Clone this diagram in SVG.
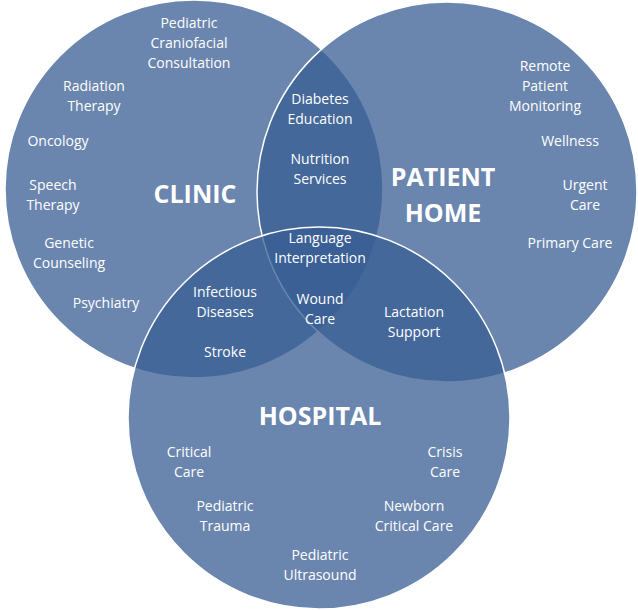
<svg xmlns="http://www.w3.org/2000/svg" width="638" height="610" viewBox="0 0 638 610">
<style>
.c{fill:#385d93;fill-opacity:0.75;stroke:#ffffff;stroke-width:1.5}
text{font-family:"Open Sans","Liberation Sans",sans-serif;fill:#fff;font-size:14px;text-anchor:middle}
.t{font-size:25px;font-weight:bold}
</style>
<rect width="638" height="610" fill="#fff"/>
<g id="clinic"><circle class="c" cx="194" cy="189" r="189"/>
<text class="t" x="195" y="203">CLINIC</text>
<text x="189" y="28">Pediatric</text><text x="189" y="48">Craniofacial</text><text x="189" y="68">Consultation</text>
<text x="94" y="91">Radiation</text><text x="94" y="111">Therapy</text>
<text x="58" y="146">Oncology</text>
<text x="53" y="190">Speech</text><text x="53" y="210">Therapy</text>
<text x="69" y="248">Genetic</text><text x="69" y="268">Counseling</text>
<text x="106" y="308">Psychiatry</text></g>
<g id="patient-home"><circle class="c" cx="447" cy="192" r="190"/>
<text class="t" x="443" y="186">PATIENT</text><text class="t" x="443" y="222">HOME</text>
<text x="545" y="71">Remote</text><text x="545" y="91">Patient</text><text x="545" y="111">Monitoring</text>
<text x="570" y="146">Wellness</text>
<text x="585" y="190">Urgent</text><text x="585" y="210">Care</text>
<text x="570" y="248">Primary Care</text></g>
<g id="hospital"><circle class="c" cx="319" cy="418" r="191"/>
<text class="t" x="320" y="425">HOSPITAL</text>
<text x="189" y="457">Critical</text><text x="189" y="477">Care</text>
<text x="445" y="457">Crisis</text><text x="445" y="477">Care</text>
<text x="225" y="511">Pediatric</text><text x="225" y="531">Trauma</text>
<text x="414" y="511">Newborn</text><text x="414" y="531">Critical Care</text>
<text x="320" y="560">Pediatric</text><text x="320" y="580">Ultrasound</text></g>
<g id="overlaps">
<text x="320" y="104">Diabetes</text><text x="320" y="124">Education</text>
<text x="320" y="164">Nutrition</text><text x="320" y="184">Services</text>
<text x="320" y="243">Language</text><text x="320" y="263">Interpretation</text>
<text x="225" y="297">Infectious</text><text x="225" y="317">Diseases</text>
<text x="225" y="357">Stroke</text>
<text x="320" y="304">Wound</text><text x="320" y="324">Care</text>
<text x="414" y="317">Lactation</text><text x="414" y="337">Support</text></g>
<g id="connectors"/>
</svg>
